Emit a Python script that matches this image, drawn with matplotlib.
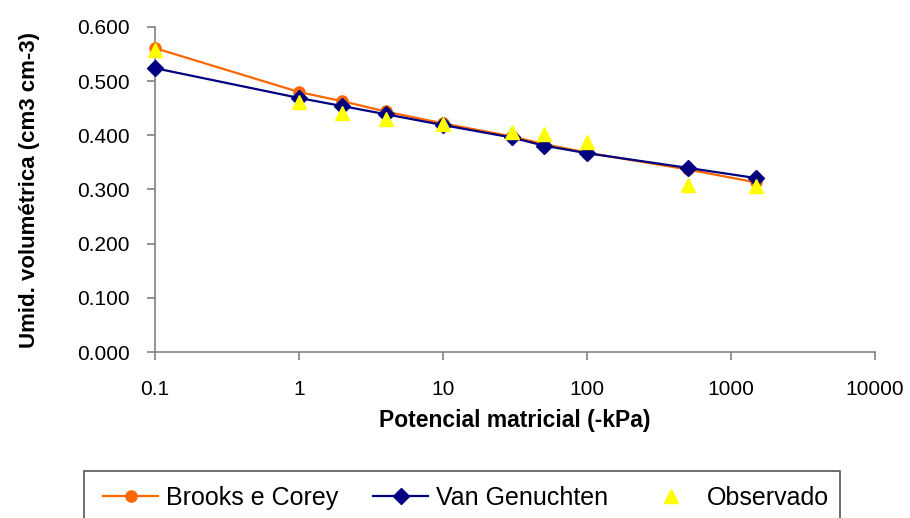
import matplotlib
matplotlib.use('Agg')
import matplotlib.pyplot as plt
from matplotlib.patches import Rectangle
from matplotlib.ticker import FixedLocator, FixedFormatter, NullLocator

plt.rcParams['font.family'] = ['Liberation Sans', 'DejaVu Sans']

# potencial matricial (-kPa)
potencial = [0.1, 1, 2, 4, 10, 30, 50, 100, 500, 1500]
brooks_corey = [0.561, 0.480, 0.463, 0.444, 0.422, 0.398, 0.384, 0.368, 0.337, 0.313]
van_genuchten = [0.524, 0.469, 0.454, 0.439, 0.419, 0.396, 0.381, 0.367, 0.340, 0.321]
observado = [0.557, 0.461, 0.442, 0.430, 0.421, 0.407, 0.403, 0.388, 0.309, 0.306]

x_ticks = [0.1, 1, 10, 100, 1000, 10000]
x_labels = ['0.1', '1', '10', '100', '1000', '10000']
y_ticks = [0.0, 0.1, 0.2, 0.3, 0.4, 0.5, 0.6]

W, H = 910, 518
fig = plt.figure(figsize=(W / 100, H / 100), dpi=100)
ax = fig.add_axes([155 / W, 1 - 352 / H, 720 / W, 325 / H])

ax.plot(potencial, brooks_corey, '-o', color='#FF6600', lw=1.6, ms=8,
        label='Brooks e Corey', clip_on=False, zorder=3)
ax.plot(potencial, van_genuchten, '-D', color='#000080', lw=1.6, ms=8,
        label='Van Genuchten', clip_on=False, zorder=4)
ax.plot(potencial, observado, '^', color='#FFFF00', ms=10, ls='none',
        label='Observado', clip_on=False, zorder=5)

ax.set_xscale('log')
ax.set_xlim(0.1, 10000)
ax.set_ylim(0, 0.6)
ax.xaxis.set_major_locator(FixedLocator(x_ticks))
ax.xaxis.set_major_formatter(FixedFormatter(x_labels))
ax.xaxis.set_minor_locator(NullLocator())
ax.set_yticks(y_ticks)
ax.set_yticklabels(['%.3f' % v for v in y_ticks])

for s in ['top', 'right']:
    ax.spines[s].set_visible(False)
for s in ['left', 'bottom']:
    ax.spines[s].set_color('#808080')
    ax.spines[s].set_linewidth(1.2)
ax.tick_params(axis='both', colors='#808080', labelcolor='black',
               labelsize=15, length=6, width=1.2, direction='out')
ax.tick_params(axis='y', pad=12)
ax.tick_params(axis='x', pad=14)

ax.set_xlabel('Potencial matricial (-kPa)', fontsize=16.5, fontweight='bold')
ax.set_ylabel('Umid. volumétrica (cm3 cm-3)', fontsize=16, fontweight='bold')
ax.xaxis.set_label_coords(0.5, -0.21)
ax.yaxis.set_label_coords(-0.175, 0.5)
ax.yaxis.label.set_va('center')
ax.xaxis.label.set_va('center')

# legend
fig.patches.append(Rectangle((84 / W, -0.05), (840 - 84) / W, 0.05 + 1 - 471 / H,
                             transform=fig.transFigure, fill=False,
                             edgecolor='#555555', lw=1.2))
fig.legend(loc='center left', bbox_to_anchor=(103 / W, 1 - 498 / H), ncol=3,
           frameon=False, fontsize=18, borderpad=0, borderaxespad=0,
           handlelength=2.2, handletextpad=0.32, columnspacing=1.4)

fig.savefig('out.png', dpi=100)
